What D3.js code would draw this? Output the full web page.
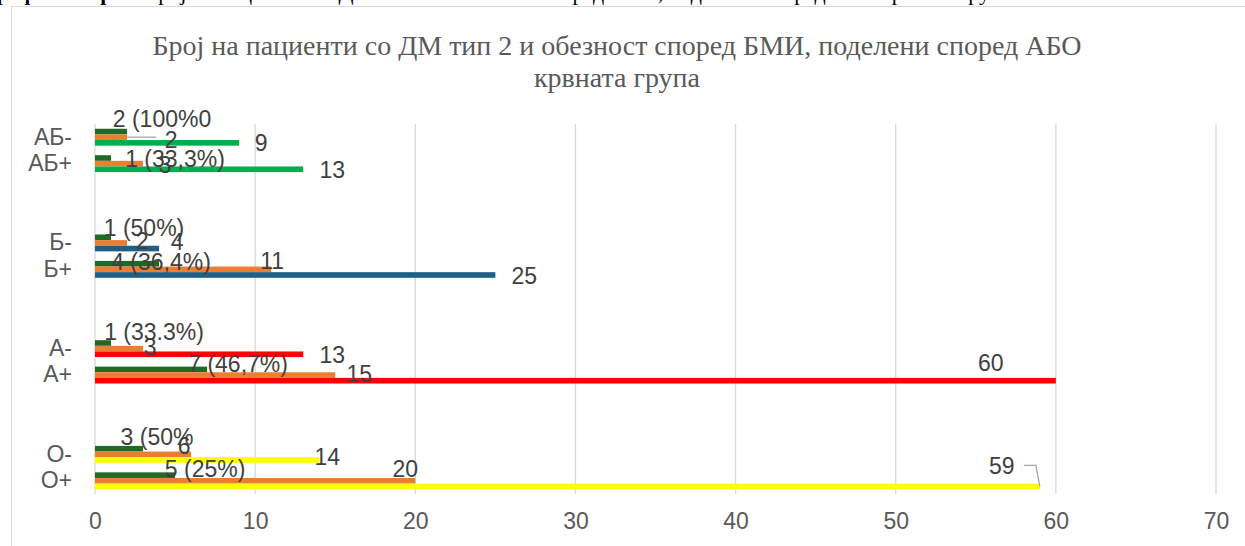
<!DOCTYPE html>
<html>
<head>
<meta charset="utf-8">
<script src="https://cdn.jsdelivr.net/npm/d3@7"></script>
<style>
  body { margin: 0; background: #fff; }
  svg { display: block; }
</style>
</head>
<body>
<script>
const svgWidth = 1245
const svgHeight = 546

// rows as in the sheet, blank rows make the gaps between blood groups
const categories = ["АБ-", "АБ+", "", "", "Б-", "Б+", "", "", "А-", "А+", "", "", "О-", "О+"]
const obeseValues = [2, 1, null, null, 1, 4, null, null, 1, 7, null, null, 3, 5]
const obeseLabels = ["2 (100%0", "1 (33,3%)", "", "", "1 (50%)", "4 (36,4%)", "", "", "1 (33.3%)", "7 (46,7%)", "", "", "3 (50%", "5 (25%)"]
const secondValues = [2, 3, null, null, 2, 11, null, null, 3, 15, null, null, 6, 20]
const groupValues = [9, 13, null, null, 4, 25, null, null, 13, 60, null, null, 14, 59]
const xTicks = [0, 10, 20, 30, 40, 50, 60, 70]

const titleLines = ["Број на пациенти со ДМ тип 2 и обезност според БМИ, поделени според АБО", "крвната група"]

const groupColor = { "АБ": "#00b050", "Б": "#1f5f85", "А": "#ff0000", "О": "#ffff00" }
const obeseColor = "#1e6b26"
const secondColor = "#ed7d31"

// hand-dragged data label offsets from the bar end (dx, dy), per row and series
const labelNudge = [
  [[35, -13], [44, 3], [22, 0]],
  [[64, 1], [22, 1], [29, 1]],
  null, null,
  [[33, -9], [15, -2], [18, -7]],
  [[2, -2], [1, -8], [29, 1]],
  null, null,
  [[43, -11], [7, -2], [29, 1]],
  [[31, -5], [24, -1], [-65, -18]],
  null, null,
  [[14, -12], [-7, -8], [8, -3]],
  [[30, -6], [-10, -12], [-38, -20]]
]

const margin = { top: 124, right: 29, bottom: 52, left: 95 }
const chartWidth = svgWidth - margin.left - margin.right
const chartHeight = svgHeight - margin.top - margin.bottom

const svg = d3.select("body").append("svg")
  .attr("width", svgWidth)
  .attr("height", svgHeight)

// document caption above the chart, only its lowest part shows
svg.append("text")
  .attr("x", -16)
  .attr("y", 0)
  .attr("font-family", "Liberation Serif")
  .attr("font-size", 22)
  .attr("fill", "#000")
  .html("<tspan font-weight='bold'>Графикон бр. 5.</tspan> Број на пациенти со ДМ тип 2 и обезност според БМИ, поделени според АБО крвната група")

svg.append("rect")
  .attr("x", 11.5)
  .attr("y", 6.5)
  .attr("width", svgWidth)
  .attr("height", svgHeight)
  .attr("fill", "#fff")
  .attr("stroke", "#d9d9d9")

svg.append("g").selectAll("text")
  .data(titleLines)
  .enter()
  .append("text")
  .attr("x", 617)
  .attr("y", (d, i) => 45 + i * 32)
  .attr("text-anchor", "middle")
  .attr("dominant-baseline", "central")
  .attr("font-family", "Liberation Serif")
  .attr("font-size", 28)
  .attr("fill", "#595959")
  .text(d => d)

const chartG = svg.append("g")
  .attr("transform", `translate(${margin.left}, ${margin.top})`)

const x = d3.scaleLinear()
  .domain([0, 70])
  .range([0, chartWidth])

const y = d3.scaleBand()
  .domain(d3.range(categories.length))
  .range([0, chartHeight])

const barH = y.bandwidth() * 0.213
const barY = (i, j) => y(i) + (y.bandwidth() - 3 * barH) / 2 + j * barH

// grid
chartG.append("g").selectAll("line")
  .data(xTicks)
  .enter()
  .append("line")
  .attr("x1", d => x(d))
  .attr("x2", d => x(d))
  .attr("y1", 0)
  .attr("y2", chartHeight)
  .attr("stroke", "#d9d9d9")
  .attr("stroke-width", 1.3)

const xAxisG = chartG.append("g")
  .attr("transform", `translate(0, ${chartHeight})`)
  .call(d3.axisBottom(x).tickValues(xTicks).tickSize(0).tickPadding(19))
xAxisG.select(".domain").remove()
xAxisG.selectAll("text")
  .attr("font-family", "Liberation Sans")
  .attr("font-size", 23)
  .attr("fill", "#595959")

const yAxisG = chartG.append("g")
  .call(d3.axisLeft(y).tickFormat(i => categories[i]).tickSize(0).tickPadding(23))
yAxisG.select(".domain").remove()
yAxisG.selectAll("text")
  .attr("font-family", "Liberation Sans")
  .attr("font-size", 23)
  .attr("fill", "#595959")

const rows = categories.map((c, i) => ({
  i: i,
  cat: c,
  vals: [obeseValues[i], secondValues[i], groupValues[i]],
  labels: [obeseLabels[i], String(secondValues[i]), String(groupValues[i])]
})).filter(d => d.cat !== "")

const seriesColor = (d, j) => j === 0 ? obeseColor : j === 1 ? secondColor : groupColor[d.cat.slice(0, -1)]

const marks = []
rows.forEach(d => d.vals.forEach((v, j) => marks.push({ row: d, j: j, v: v })))

chartG.append("g").selectAll("rect")
  .data(marks)
  .enter()
  .append("rect")
  .attr("x", 0)
  .attr("y", d => barY(d.row.i, d.j))
  .attr("width", d => x(d.v))
  .attr("height", barH)
  .attr("fill", d => seriesColor(d.row, d.j))

// leader lines for the two labels that were pulled away
const leader = d3.line()
const ab = marks.find(d => d.row.cat === "АБ-" && d.j === 1)
const abY = barY(ab.row.i, 1) + barH / 2
chartG.append("path")
  .attr("d", leader([[x(ab.v), abY], [x(ab.v) + 29, abY]]))
  .attr("fill", "none")
  .attr("stroke", "#a6a6a6")
  .attr("stroke-width", 1.3)

const o = marks.find(d => d.row.cat === "О+" && d.j === 2)
const oY = barY(o.row.i, 2) + barH / 2
chartG.append("path")
  .attr("d", leader([[x(o.v), oY], [x(o.v) - 4, oY - 21], [x(o.v) - 16, oY - 21]]))
  .attr("fill", "none")
  .attr("stroke", "#a6a6a6")
  .attr("stroke-width", 1.3)

chartG.append("g").selectAll("text")
  .data(marks)
  .enter()
  .append("text")
  .attr("x", d => x(d.v) + labelNudge[d.row.i][d.j][0])
  .attr("y", d => barY(d.row.i, d.j) + barH / 2 + labelNudge[d.row.i][d.j][1])
  .attr("text-anchor", "middle")
  .attr("dominant-baseline", "central")
  .attr("font-family", "Liberation Sans")
  .attr("font-size", 23)
  .attr("fill", "#404040")
  .text(d => d.row.labels[d.j])
</script>
</body>
</html>
